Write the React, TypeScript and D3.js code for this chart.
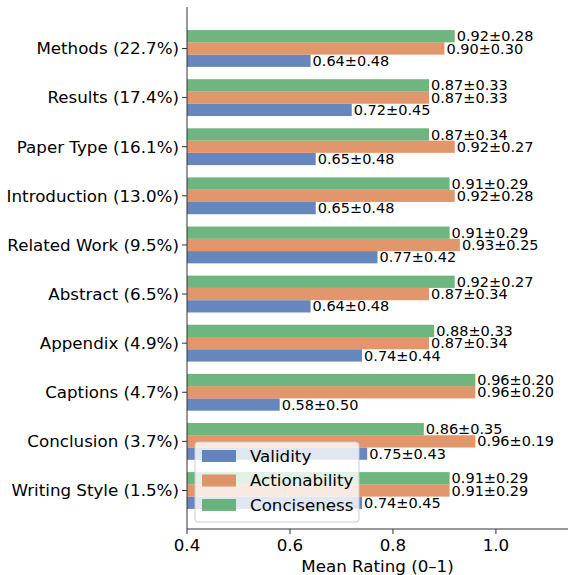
import React from 'react';
import * as d3 from 'd3';

const categories = ['Methods (22.7%)', 'Results (17.4%)', 'Paper Type (16.1%)', 'Introduction (13.0%)', 'Related Work (9.5%)', 'Abstract (6.5%)', 'Appendix (4.9%)', 'Captions (4.7%)', 'Conclusion (3.7%)', 'Writing Style (1.5%)'];
const validityMean = [0.64, 0.72, 0.65, 0.65, 0.77, 0.64, 0.74, 0.58, 0.75, 0.74];
const validityStd = [0.48, 0.45, 0.48, 0.48, 0.42, 0.48, 0.44, 0.50, 0.43, 0.45];
const actionMean = [0.90, 0.87, 0.92, 0.92, 0.93, 0.87, 0.87, 0.96, 0.96, 0.91];
const actionStd = [0.30, 0.33, 0.27, 0.28, 0.25, 0.34, 0.34, 0.20, 0.19, 0.29];
const conciseMean = [0.92, 0.87, 0.87, 0.91, 0.91, 0.92, 0.88, 0.96, 0.86, 0.91];
const conciseStd = [0.28, 0.33, 0.34, 0.29, 0.29, 0.27, 0.33, 0.20, 0.35, 0.29];
const xTicks = [0.4, 0.6, 0.8, 1.0];

const series = [
  { name: 'Validity', mean: validityMean, std: validityStd, color: '#4C72B0', offset: 0.25 },
  { name: 'Actionability', mean: actionMean, std: actionStd, color: '#DD8452', offset: 0 },
  { name: 'Conciseness', mean: conciseMean, std: conciseStd, color: '#55A868', offset: -0.25 },
];

const W = 568, H = 575;
const left = 187, right = 568, top = 7, bottom = 529;
const font = 'DejaVu Sans, sans-serif';

export default function App() {
  const x = d3.scaleLinear().domain([0.4, 1.14]).range([left, right]);
  const y = d3.scaleLinear().domain([0, categories.length - 1]).range([48.5, 490.5]);
  const bh = 0.25;

  return (
    <svg width={W} height={H} style={{ position: 'absolute', left: 0, top: 0 }}>
      <rect width={W} height={H} fill="#fff" />
      {series.map((s) =>
        categories.map((c, i) => {
          const y0 = y(i + s.offset - bh / 2);
          const y1 = y(i + s.offset + bh / 2);
          return (
            <g key={s.name + i}>
              <rect x={x(0.4)} y={y0} width={x(s.mean[i]) - x(0.4)} height={y1 - y0}
                fill={s.color} fillOpacity={0.85} />
              <text x={x(s.mean[i]) + 2} y={(y0 + y1) / 2} dy="0.35em" fontFamily={font} fontSize={14.5} fill="#000">
                {s.mean[i].toFixed(2) + '±' + s.std[i].toFixed(2)}
              </text>
            </g>
          );
        })
      )}
      {/* spines */}
      <line x1={left} x2={left} y1={top} y2={bottom} stroke="#333" strokeWidth={1} />
      <line x1={left} x2={right} y1={bottom} y2={bottom} stroke="#333" strokeWidth={1} />
      {categories.map((c, i) => (
        <g key={c}>
          <line x1={left - 5} x2={left} y1={y(i)} y2={y(i)} stroke="#333" />
          <text x={left - 8} y={y(i)} dy="0.35em" textAnchor="end" fontFamily={font} fontSize={16.7}>{c}</text>
        </g>
      ))}
      {xTicks.map((t) => (
        <g key={t}>
          <line x1={x(t)} x2={x(t)} y1={bottom} y2={bottom + 5} stroke="#333" />
          <text x={x(t)} y={bottom + 22} textAnchor="middle" fontFamily={font} fontSize={16.7}>{t.toFixed(1)}</text>
        </g>
      ))}
      <text x={x(0.77)} y={bottom + 43} textAnchor="middle" fontFamily={font} fontSize={16.7}>Mean Rating (0–1)</text>
      {/* legend */}
      <g>
        <rect x={195} y={442} width={164} height={80} rx={3} fill="#fff" fillOpacity={0.8} stroke="#ccc" />
        {series.map((s, k) => (
          <g key={s.name}>
            <rect x={202} y={450 + k * 24.5} width={34} height={12} fill={s.color} fillOpacity={0.85} />
            <text x={250} y={456 + k * 24.5} dy="0.35em" fontFamily={font} fontSize={16.7}>{s.name}</text>
          </g>
        ))}
      </g>
    </svg>
  );
}
